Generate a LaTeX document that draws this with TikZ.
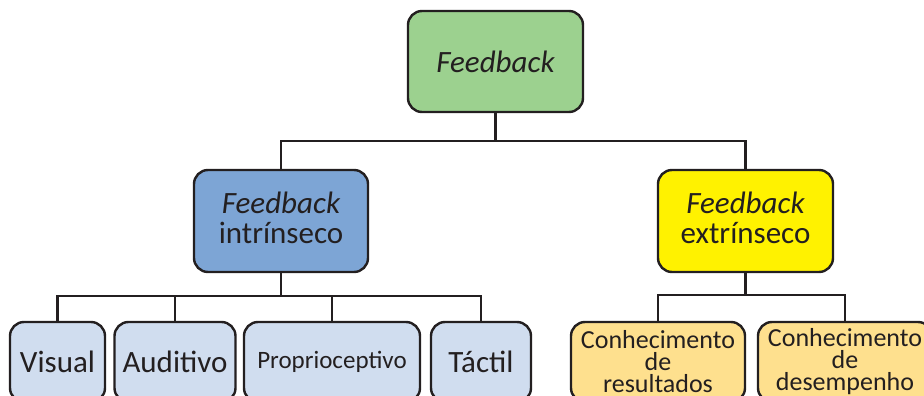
\documentclass[tikz,border=0pt]{standalone}
\usepackage{fontspec}
\setmainfont{Carlito}
\definecolor{edge}{HTML}{231F20}
\definecolor{txt}{HTML}{231F20}
\definecolor{topgreen}{HTML}{9CD18F}
\definecolor{midblue}{HTML}{7DA5D5}
\definecolor{midyellow}{HTML}{FFF200}
\definecolor{lowblue}{HTML}{D0DDEF}
\definecolor{lowyellow}{HTML}{FEE08E}
\begin{document}
\begin{tikzpicture}[x=1pt,y=-1pt,
  box/.style={draw=edge, line width=2.4pt, rounded corners=14pt, inner sep=0pt, align=center, text=txt},
  big/.style={font=\fontsize{31}{30}\selectfont},
  link/.style={draw=edge, line width=2.2pt}]
\useasboundingbox (0,0) rectangle (924,396);
\clip (0,0) rectangle (924,396);
% top
\node[box, big, fill=topgreen, minimum width=175pt, minimum height=101pt] (top) at (495.5,61.5) {\itshape Feedback};
% middle
\node[box, big, fill=midblue, minimum width=174pt, minimum height=102pt, text depth=6pt] (intr) at (281,221) {\itshape Feedback\\intrínseco};
\node[box, big, fill=midyellow, minimum width=175pt, minimum height=102pt, text depth=6pt] (extr) at (745.5,221) {\itshape Feedback\\extrínseco};
% bottom left
\node[box, big, fill=lowblue, minimum width=95pt, minimum height=80pt] (vis) at (57.5,362) {Visual};
\node[box, big, fill=lowblue, minimum width=121pt, minimum height=80pt] (aud) at (175,362) {Auditivo};
\node[box, fill=lowblue, minimum width=176pt, minimum height=80pt, font=\fontsize{25}{24}\selectfont] (prop) at (332,362) {Proprioceptivo};
\node[box, big, fill=lowblue, minimum width=100pt, minimum height=80pt] (tac) at (481,362) {Táctil};
% bottom right
\node[box, fill=lowyellow, minimum width=174pt, minimum height=80pt, font=\fontsize{26}{22}\selectfont] (res) at (658,362) {Conhecimento\\de\\resultados};
\node[box, fill=lowyellow, minimum width=174pt, minimum height=80pt, font=\fontsize{26}{22}\selectfont] (des) at (845,362) {Conhecimento\\de\\desempenho};
% connectors
\draw[link] (top.south) -- ++(0,28) -| (intr.north);
\draw[link] (top.south) -- ++(0,28) -| (extr.north);
\coordinate (jl) at (281,296);
\draw[link] (intr.south) -- (jl);
\draw[link] (jl) -| (vis.north);
\draw[link] (jl) -| (aud.north);
\draw[link] (jl) -| (prop.north);
\draw[link] (jl) -| (tac.north);
\coordinate (jr) at (745.5,295);
\draw[link] (extr.south) -- (jr);
\draw[link] (jr) -| (res.north);
\draw[link] (jr) -| (des.north);
\end{tikzpicture}
\end{document}
